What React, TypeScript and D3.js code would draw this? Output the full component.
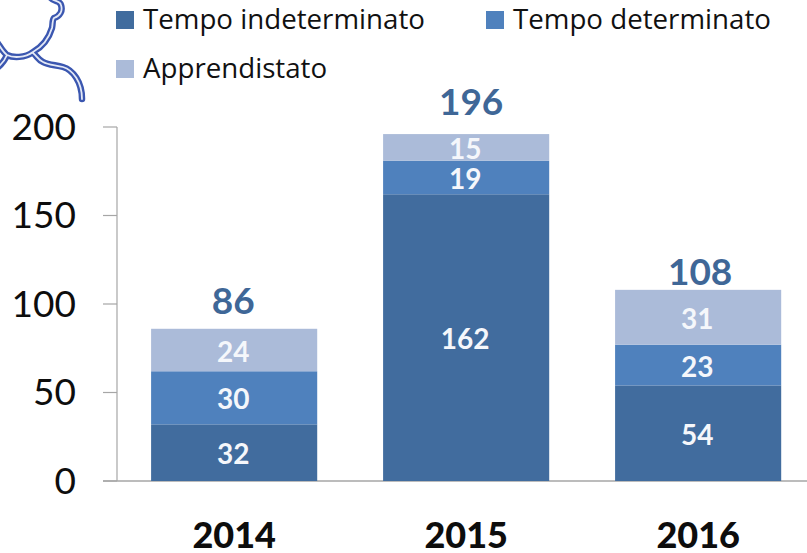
import React from "react";
import * as d3 from "d3";

const years = ["2014", "2015", "2016"];
const indeterminato = [32, 162, 54];
const determinato = [30, 19, 23];
const apprendistato = [24, 15, 31];
const totals = [86, 196, 108];
const yTicks = [0, 50, 100, 150, 200];
const legendLabels = ["Tempo indeterminato", "Tempo determinato", "Apprendistato"];
const seriesColors = ["#416c9e", "#4f81bd", "#abbbd9"];
const seriesValues = [indeterminato, determinato, apprendistato];

const y = d3.scaleLinear().domain([0, 200]).range([481, 127]);
const x = d3.scaleBand<string>().domain(years).range([117, 815.3]).paddingInner(0.284).paddingOuter(0.147);

// layout offsets of the total labels, as placed in the reference
const totalDx = [0, 6, 3];
const totalGap = [15, 19, 5];

const iconPath = "M50 -3 C53 2 60 0 61 5 C63 11 60 16 54 18 C52 20 53 24 52 28 C49 38 42 47 33 52 C25 58 13 58 7 55 C3 52 1 48 -3 42 M33 53 C37 56 38 60 43 62 C48 65 56 65 63 67 C73 70 82 82 82 99 M7 55 C5 60 2 64 -3 68";

export default function App() {
  const numFont = "Lato, Carlito, sans-serif";
  const stack = d3.stack<number>().keys(["0", "1", "2"]).value((_, k) => seriesValues[+k][_])(years.map((_, i) => i));
  return (
    <svg width={807} height={553} style={{ position: "absolute", left: 0, top: 0, background: "#fff" }}>
      <g fill="none" strokeLinecap="round" strokeLinejoin="round">
        <path d={iconPath} stroke="#3b57b0" strokeWidth={6.5} />
        <path d={iconPath} stroke="#e4e9f6" strokeWidth={1.8} />
      </g>

      <line x1={117} x2={117} y1={y(200)} y2={y(0)} stroke="#a6a6a6" strokeWidth={1.2} />
      {yTicks.map((t) => (
        <g key={t}>
          <line x1={103} x2={117} y1={y(t)} y2={y(t)} stroke="#a6a6a6" strokeWidth={1.2} />
          <text x={76} y={y(t)} dy="0.34em" textAnchor="end" fontFamily={numFont} fontSize={37} fill="#0d0d0d">{t}</text>
        </g>
      ))}
      <line x1={103} x2={807} y1={y(0)} y2={y(0)} stroke="#a6a6a6" strokeWidth={1.4} />

      {stack.map((s, si) =>
        s.map((d, i) => (
          <g key={si + "-" + i}>
            <rect x={x(years[i])} width={x.bandwidth()} y={y(d[1])} height={y(d[0]) - y(d[1])} fill={seriesColors[si]} />
            <text
              x={x(years[i])! + x.bandwidth() / 2 - 1}
              y={(y(d[0]) + y(d[1])) / 2 + 1.5}
              dy="0.36em"
              textAnchor="middle"
              fontFamily={numFont}
              fontWeight={700}
              fontSize={28}
              fill="#f5f7fb"
            >
              {seriesValues[si][i]}
            </text>
          </g>
        ))
      )}

      {years.map((yr, i) => (
        <g key={yr}>
          <text x={x(yr)! + x.bandwidth() / 2 + totalDx[i] - 1} y={y(totals[i]) - totalGap[i]} textAnchor="middle" fontFamily={numFont} fontWeight={700} fontSize={37} fill="#3f6797">{totals[i]}</text>
          <text x={x(yr)! + x.bandwidth() / 2} y={548} textAnchor="middle" fontFamily={numFont} fontWeight={900} fontSize={36} fill="#0d0d0d">{yr}</text>
        </g>
      ))}

      {[[116, 11], [486, 11], [116, 60]].map(([lx, ly], i) => (
        <g key={i}>
          <rect x={lx} y={ly} width={18} height={18} fill={seriesColors[i]} />
          <text x={lx + 27} y={ly + 18} fontFamily="'Open Sans', sans-serif" fontSize={27.7} fill="#111">{legendLabels[i]}</text>
        </g>
      ))}
    </svg>
  );
}
